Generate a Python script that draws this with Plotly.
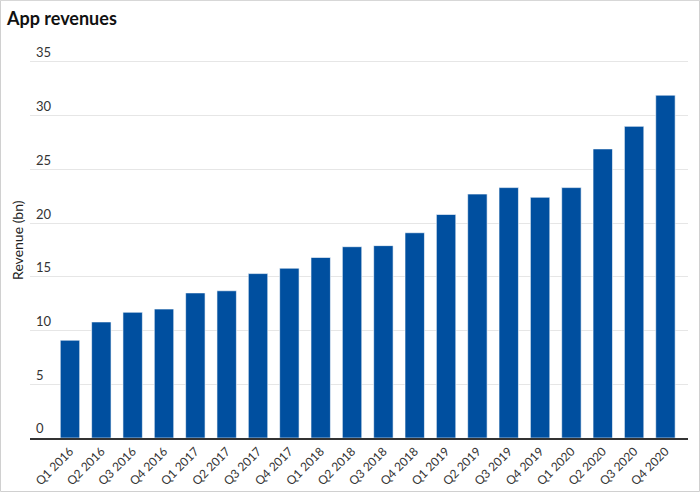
import plotly.graph_objects as go

quarters = ["Q1 2016", "Q2 2016", "Q3 2016", "Q4 2016",
            "Q1 2017", "Q2 2017", "Q3 2017", "Q4 2017",
            "Q1 2018", "Q2 2018", "Q3 2018", "Q4 2018",
            "Q1 2019", "Q2 2019", "Q3 2019", "Q4 2019",
            "Q1 2020", "Q2 2020", "Q3 2020", "Q4 2020"]
revenue = [9.1, 10.8, 11.7, 12.0,
           13.5, 13.7, 15.3, 15.8,
           16.8, 17.8, 17.9, 19.1,
           20.8, 22.7, 23.3, 22.4,
           23.3, 26.9, 29.0, 31.9]
y_ticks = [0, 5, 10, 15, 20, 25, 30, 35]

W, H = 700, 492
Y_MAX = 37.5
ML, MR, MB = 30, 12, 54
UNIT = 376 / 35.0
MT = 62 - (Y_MAX - 35) * UNIT
PW, PH = W - ML - MR, H - MT - MB

fig = go.Figure(go.Bar(
    x=quarters, y=revenue,
    marker=dict(color="#004f9f", line=dict(color="#ffffff", width=0.6)),
    width=0.62,
))

fig.update_layout(
    width=W, height=H,
    margin=dict(l=ML, r=MR, t=MT, b=MB, pad=0),
    paper_bgcolor="white", plot_bgcolor="white",
    font=dict(family="Lato", color="#333333"),
    showlegend=False,
    xaxis=dict(
        type="category", range=[-1.276, 19.72],
        tickangle=-45, tickfont=dict(size=12, color="#333333"),
        showgrid=False, showline=True, linecolor="#333333", linewidth=1.5,
        ticks="", automargin=False,
    ),
    yaxis=dict(
        range=[0, Y_MAX], tickvals=y_ticks,
        ticklabelposition="inside top", ticklabelstandoff=3,
        tickfont=dict(size=13, color="#333333"),
        showgrid=True, gridcolor="#e6e6e6", gridwidth=1,
        zeroline=False, showline=False, ticks="", automargin=False,
    ),
    annotations=[
        dict(text="<b>App revenues</b>", xref="paper", yref="paper",
             x=(4 - ML) / PW, y=1 + (MT - 5) / PH, xanchor="left", yanchor="top",
             showarrow=False, font=dict(family="Lato", size=18, color="#111111")),
        dict(text="Revenue (bn)", xref="paper", yref="paper",
             x=(18 - ML) / PW, y=(H - MB - 240) / PH, xanchor="center", yanchor="middle",
             textangle=-90, showarrow=False,
             font=dict(family="Lato", size=14, color="#222222")),
    ],
    shapes=[
        dict(type="rect", xref="paper", yref="paper",
             x0=(0.5 - ML) / PW, x1=(W - 0.5 - ML) / PW,
             y0=-(MB - 0.5) / PH, y1=1 + (MT - 0.5) / PH,
             line=dict(color="#d0d0d0", width=1), layer="below"),
    ],
)

fig.write_html("out.html")
